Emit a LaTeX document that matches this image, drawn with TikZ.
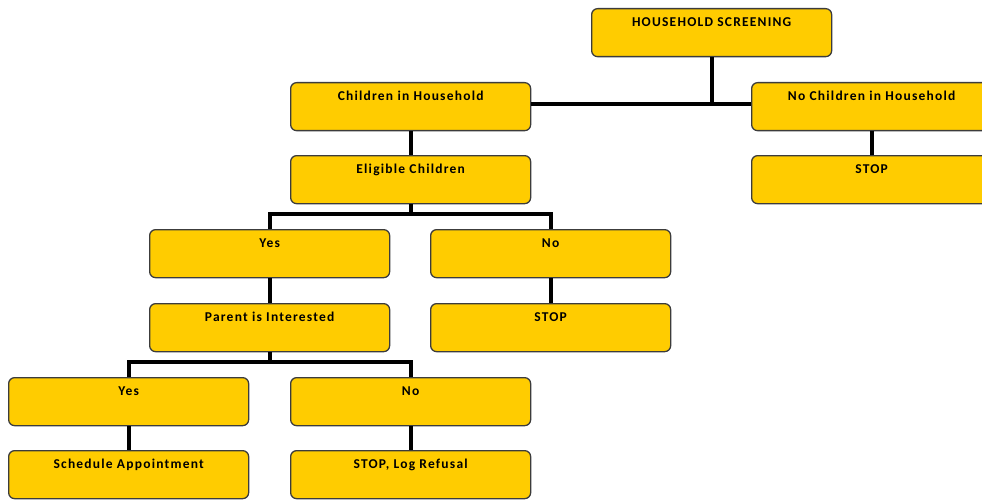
\documentclass[tikz,border=0pt]{standalone}
\usepackage{fontspec}
\setmainfont{Carlito}
\newfontfamily\boxfont[LetterSpace=9]{Carlito}
\definecolor{boxfill}{HTML}{FFCC00}
\definecolor{boxline}{HTML}{3C3C3C}
\begin{document}
\begin{tikzpicture}[x=1pt,y=-1pt,
  box/.style={draw=boxline, fill=boxfill, line width=1.3pt, rounded corners=6pt,
    anchor=north west, minimum width=240pt, inner sep=0pt,
    text height=18pt, text depth=30pt, align=center,
    font=\boxfont\fontsize{13.5}{15}\selectfont\bfseries},
  conn/.style={draw=black, line width=4pt}]
\useasboundingbox (0,0) rectangle (982,500);
\fill[white] (0,0) rectangle (982,500);
\node[box] (hs) at (591,8) {HOUSEHOLD SCREENING};
\node[box] (ch) at (290,82) {Children in Household};
\node[box] (nch) at (751,82) {No Children in Household};
\node[box] (stop1) at (751,155) {STOP};
\node[box] (ec) at (290,155) {Eligible Children};
\node[box] (yes1) at (149,229) {Yes};
\node[box] (no1) at (430,229) {No};
\node[box] (pi) at (149,303) {Parent is Interested};
\node[box] (stop2) at (430,303) {STOP};
\node[box] (yes2) at (8,377) {Yes};
\node[box] (no2) at (290,377) {No};
\node[box] (sa) at (8,450) {Schedule Appointment};
\node[box] (slr) at (290,450) {STOP, Log Refusal};
\draw[conn] (hs.south) -- ++(0,47) coordinate (j1);
\draw[conn] (ch.east |- j1) -- (nch.west |- j1);
\draw[conn] (ch.south) -- (ec.north);
\draw[conn] (nch.south) -- (stop1.north);
\draw[conn] (ec.south) -- ++(0,10) -| (yes1.north);
\draw[conn] (ec.south) -- ++(0,10) -| (no1.north);
\draw[conn] (yes1.south) -- (pi.north);
\draw[conn] (no1.south) -- (stop2.north);
\draw[conn] (pi.south) -- ++(0,10) -| (yes2.north);
\draw[conn] (pi.south) -- ++(0,10) -| (no2.north);
\draw[conn] (yes2.south) -- (sa.north);
\draw[conn] (no2.south) -- (slr.north);
\end{tikzpicture}
\end{document}
